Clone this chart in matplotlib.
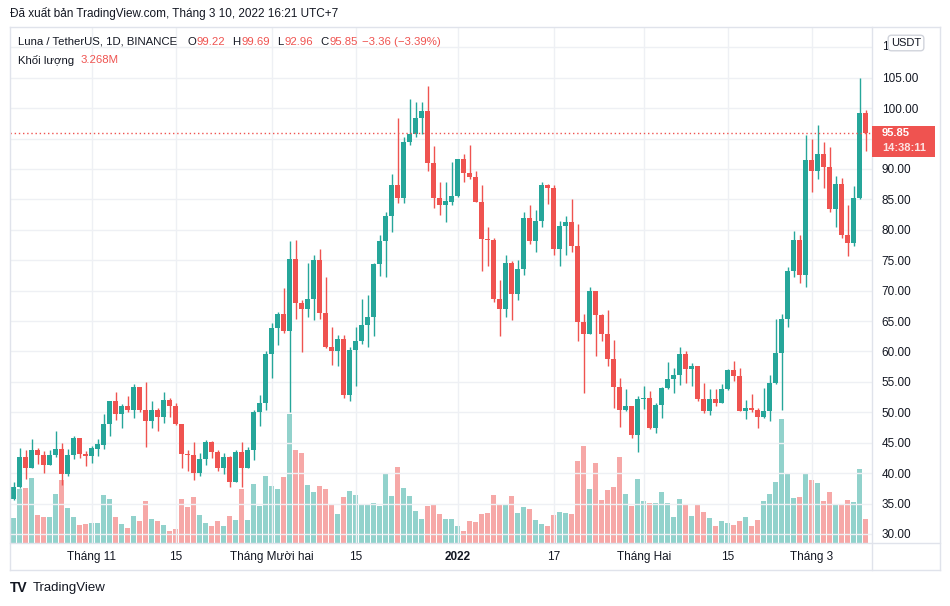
import matplotlib
matplotlib.use("Agg")
import matplotlib.pyplot as plt
import matplotlib.transforms as mtransforms
from matplotlib.patches import Rectangle
from matplotlib.lines import Line2D
import numpy as np
import pandas as pd

plt.rcParams['font.family'] = ['Liberation Sans', 'DejaVu Sans']

# daily candles LUNA/USDT, 19 Oct 2021 -> 10 Mar 2022
dates = pd.date_range('2021-10-19', '2022-03-10', freq='D')

opens = [35.8, 37.7, 42.6, 40.9, 43.8, 43.0, 41.4, 43.0, 43.9, 39.9,
         43.0, 45.7, 43.2, 42.8, 44.0, 44.7, 48.0, 51.9, 49.8, 51.1,
         50.3, 54.1, 50.3, 48.5, 50.4, 49.3, 52.0, 51.0, 48.0, 43.1,
         43.0, 40.1, 42.4, 45.2, 43.4, 40.9, 42.7, 38.5, 43.5, 40.9,
         43.8, 50.1, 51.5, 59.6, 63.9, 66.2, 63.3, 75.2, 67.9, 67.0,
         68.7, 75.1, 66.3, 60.7, 60.1, 62.0, 52.9, 60.2, 61.7, 64.3,
         65.6, 74.3, 78.2, 82.2, 87.3, 85.3, 94.5, 95.8, 98.4, 99.6,
         90.9, 85.2, 84.0, 84.6, 85.5, 91.7, 89.4, 88.7, 84.5, 78.5,
         78.3, 68.7, 66.9, 74.5, 69.4, 73.5, 82.0, 78.2, 81.5, 87.3,
         86.9, 76.9, 80.7, 81.2, 77.3, 64.8, 62.9, 69.9, 66.0, 62.9,
         58.8, 54.2, 50.4, 51.1, 46.3, 52.2, 52.4, 47.5, 51.2, 54.0,
         55.5, 56.1, 59.6, 57.1, 57.6, 52.2, 50.2, 52.2, 51.6, 53.8,
         57.0, 56.0, 50.2, 50.7, 50.4, 49.2, 50.2, 54.8, 59.7, 65.3,
         73.2, 78.3, 72.5, 91.4, 89.6, 92.4, 90.4, 83.4, 87.6, 79.1,
         77.8, 85.3, 99.22]

highs = [38.5, 44.1, 43.8, 45.6, 44.1, 43.6, 43.8, 47.0, 44.9, 43.9,
         46.1, 45.7, 43.6, 44.4, 45.6, 49.8, 51.9, 53.3, 51.3, 52.6,
         54.7, 54.2, 54.9, 51.9, 50.7, 53.4, 52.4, 51.6, 48.1, 43.8,
         45.1, 43.3, 45.5, 45.3, 43.8, 43.3, 42.8, 43.8, 45.2, 44.3,
         50.4, 52.9, 60.1, 64.7, 66.5, 70.5, 78.2, 78.4, 68.4, 74.5,
         75.9, 76.8, 72.2, 64.0, 62.7, 62.7, 60.7, 64.0, 68.6, 69.2,
         74.5, 79.1, 83.0, 89.1, 98.3, 95.3, 101.5, 101.0, 101.0, 103.7,
         93.8, 87.9, 87.9, 91.2, 91.7, 92.5, 94.0, 89.6, 87.4, 80.4,
         78.7, 71.7, 75.8, 74.8, 75.1, 83.0, 84.0, 83.2, 87.9, 87.6,
         87.3, 81.5, 82.2, 85.0, 80.9, 66.1, 70.6, 69.9, 66.1, 66.8,
         61.9, 55.7, 53.9, 51.1, 52.7, 54.3, 53.5, 51.6, 54.2, 58.3,
         57.3, 60.7, 60.1, 58.1, 57.6, 54.8, 53.9, 53.9, 54.6, 57.1,
         58.4, 57.3, 52.0, 53.0, 50.7, 54.0, 56.1, 65.3, 66.1, 73.9,
         79.8, 79.1, 95.5, 95.0, 97.3, 94.4, 93.6, 88.8, 88.5, 84.0,
         87.2, 104.9, 99.69]

lows = [35.6, 37.5, 39.1, 40.8, 41.5, 40.1, 41.3, 42.7, 38.1, 39.6,
        42.4, 42.5, 41.2, 41.7, 42.8, 44.0, 46.1, 48.8, 47.5, 50.0,
        49.0, 50.0, 44.3, 47.4, 47.0, 48.3, 49.2, 47.9, 40.9, 40.4,
        38.8, 39.6, 41.4, 42.5, 40.4, 39.8, 37.8, 38.5, 37.8, 40.9,
        42.1, 47.7, 50.4, 55.7, 61.0, 63.0, 50.1, 65.3, 59.9, 65.7,
        65.2, 65.3, 60.6, 57.8, 57.6, 52.4, 51.9, 54.3, 61.2, 60.7,
        62.5, 72.4, 72.2, 79.6, 84.4, 84.4, 93.9, 95.2, 95.8, 89.6,
        83.5, 82.5, 81.2, 84.1, 85.4, 87.9, 88.4, 84.5, 73.3, 74.0,
        68.1, 62.5, 65.6, 65.1, 68.4, 72.5, 77.7, 76.4, 80.4, 84.3,
        75.9, 74.0, 75.8, 76.3, 61.7, 53.2, 62.9, 59.3, 61.7, 57.6,
        50.7, 47.6, 50.2, 45.7, 43.5, 50.6, 47.3, 46.6, 49.1, 53.9,
        53.2, 54.5, 54.8, 54.3, 51.9, 49.9, 49.5, 51.1, 51.5, 53.6,
        55.1, 50.2, 48.9, 50.0, 47.4, 49.1, 48.6, 54.6, 50.4, 64.1,
        72.2, 71.2, 70.6, 86.2, 88.3, 86.8, 82.9, 80.4, 78.6, 75.7,
        77.3, 85.1, 92.96]

closes = [37.7, 42.6, 40.9, 43.8, 43.0, 41.4, 43.0, 43.9, 39.9, 43.0,
          45.7, 43.2, 42.8, 44.1, 44.8, 48.0, 51.9, 49.8, 51.1, 50.3,
          54.1, 50.3, 48.5, 50.4, 49.3, 52.0, 51.0, 48.0, 43.1, 43.0,
          40.1, 42.4, 45.2, 43.4, 40.9, 42.7, 38.5, 43.5, 40.9, 43.8,
          50.1, 51.6, 59.6, 63.9, 66.2, 63.3, 75.2, 67.9, 67.0, 68.7,
          75.1, 66.3, 60.7, 60.1, 62.0, 52.9, 60.2, 61.7, 64.3, 65.6,
          74.3, 78.2, 82.2, 87.3, 85.3, 94.5, 95.8, 98.4, 99.6, 90.9,
          85.2, 84.0, 84.8, 85.5, 91.7, 89.4, 88.7, 84.5, 78.5, 78.3,
          68.7, 66.9, 74.5, 69.4, 73.5, 82.0, 78.2, 81.5, 87.3, 86.9,
          76.9, 80.7, 81.2, 77.3, 64.8, 62.9, 69.9, 66.0, 62.9, 58.8,
          54.2, 50.4, 51.1, 46.3, 52.2, 52.4, 47.5, 51.2, 54.0, 55.5,
          56.1, 59.6, 57.1, 57.6, 52.2, 50.2, 52.2, 51.6, 53.8, 57.0,
          56.0, 50.2, 50.7, 50.4, 49.2, 50.2, 54.8, 59.7, 65.3, 73.2,
          78.3, 72.5, 91.4, 89.6, 92.4, 90.4, 83.4, 87.6, 79.1, 77.8,
          85.3, 99.22, 95.85]

# volume in millions
volumes = [3.41, 7.41, 7.50, 8.86, 3.82, 3.59, 3.55, 6.68, 8.59, 4.77,
           3.55, 2.45, 2.59, 2.73, 2.73, 6.55, 6.00, 3.55, 2.59, 2.05,
           3.68, 3.00, 5.73, 3.27, 3.00, 2.45, 1.64, 1.91, 6.00, 4.91,
           6.27, 3.82, 2.73, 2.32, 3.00, 2.32, 3.68, 3.14, 7.36, 3.14,
           8.05, 5.05, 9.14, 7.77, 7.36, 9.00, 17.59, 12.68, 12.27, 7.91,
           6.95, 7.77, 7.36, 5.32, 3.95, 6.27, 7.09, 6.55, 5.32, 5.18,
           5.45, 5.05, 9.55, 6.41, 10.36, 7.50, 6.41, 4.36, 3.27, 5.05,
           5.32, 3.95, 3.27, 3.27, 2.32, 1.64, 3.00, 2.86, 3.95, 4.09,
           6.55, 5.18, 5.18, 6.41, 4.09, 4.91, 4.64, 3.14, 2.59, 2.32,
           3.82, 4.23, 4.09, 3.95, 11.18, 13.23, 7.36, 10.91, 5.86, 7.23,
           7.64, 11.73, 6.68, 5.05, 8.73, 5.73, 5.45, 5.45, 6.95, 5.45,
           3.55, 6.00, 5.18, 3.68, 5.18, 4.23, 3.41, 2.32, 3.00, 2.73,
           2.45, 3.00, 3.55, 2.32, 3.14, 5.73, 6.68, 8.32, 16.91, 9.41,
           6.14, 6.27, 9.41, 8.59, 8.18, 5.73, 6.95, 5.18, 5.18, 5.86,
           5.59, 10.09, 3.268]

# daily change shown in the legend
change = -3.36
change_pct = -3.39

tick_dates = ['2021-11-01', '2021-11-15', '2021-12-01', '2021-12-15', '2022-01-01',
              '2022-01-17', '2022-02-01', '2022-02-15', '2022-03-01']
tick_labels = ['Tháng 11', '15', 'Tháng Mười hai', '15', '2022',
               '17', 'Tháng Hai', '15', 'Tháng 3']
price_ticks = np.arange(30, 106, 5)

GREEN = '#26a69a'
RED = '#ef5350'
TXT = '#131722'
LINE = '#e0e3eb'
W, H = 950, 606

fig = plt.figure(figsize=(9.5, 6.06), dpi=100)
fig.patch.set_facecolor('white')

# plot area in pixels: x 10..872, y 27..543
ax = fig.add_axes([10 / W, 1 - 543 / H, 862 / W, 516 / H])
vax = ax.twinx()

o = np.array(opens); h = np.array(highs); l = np.array(lows); c = np.array(closes)
x = np.arange(len(dates))
up = c >= o
cols = np.where(up, GREEN, RED)

# volume (behind)
vax.bar(x, volumes, width=0.8, color=cols, alpha=0.5, linewidth=0)
vax.set_ylim(0, 70.4)
vax.set_yticks([])
for s in vax.spines.values():
    s.set_visible(False)

ax.set_zorder(vax.get_zorder() + 1)
ax.patch.set_visible(False)
vax.patch.set_facecolor('white')

# candles
ax.vlines(x, l, h, colors=cols, linewidth=1)
ax.bar(x, np.maximum(np.abs(c - o), 0.2), bottom=np.minimum(o, c),
       width=0.78, color=cols, linewidth=0)

ax.axhline(closes[-1], color=RED, linestyle=(0, (1, 2)), linewidth=1)

ax.set_xlim(-0.62, 143.05)
ax.set_ylim(28.52, 113.33)

tick_pos = [dates.get_loc(pd.Timestamp(d)) for d in tick_dates]
ax.set_xticks(tick_pos)
ax.set_xticklabels(tick_labels, fontsize=8.5, color=TXT)
for lab in ax.get_xticklabels():
    if lab.get_text() == '2022':
        lab.set_fontweight('bold')
ax.yaxis.tick_right()
ax.set_yticks(price_ticks)
# the 95.00 label sits under the last-price tag, so it is left blank
ax.set_yticklabels(['' if abs(v - closes[-1]) < 3 else f'{v:.2f}' for v in price_ticks],
                   fontsize=8.5, color=TXT)
ax.tick_params(axis='both', length=0)
ax.tick_params(axis='y', pad=7)
ax.tick_params(axis='x', pad=6)
ax.grid(True, color='#eef0f4', linewidth=1)
ax.axhline(110, color='#eef0f4', linewidth=1, zorder=0)
ax.set_axisbelow(True)
for s in ax.spines.values():
    s.set_visible(False)


def px(xp, yp):
    return xp / W, 1 - yp / H


# frame lines
for (x0, y0, x1, y1) in [(10, 27, 940, 27), (10, 570, 940, 570), (10, 27, 10, 570),
                         (940, 27, 940, 570), (872, 27, 872, 570), (10, 543, 940, 543)]:
    a, b = px(x0, y0)
    cc, d = px(x1, y1)
    fig.add_artist(Line2D([a, cc], [b, d], color=LINE, linewidth=1, transform=fig.transFigure))

# last price label
bt = mtransforms.blended_transform_factory(fig.transFigure, ax.transData)
fig.add_artist(Rectangle((872 / W, 91.9), 63 / W, 5.2, transform=bt,
                         facecolor=RED, edgecolor='none', zorder=5))
fig.text(882 / W, closes[-1] + 0.1, f'{closes[-1]:.2f}', transform=bt, color='white',
         fontsize=8, fontweight='bold', va='center', zorder=6)
fig.text(882 / W, closes[-1] - 2.4, '14:38:11', transform=bt, color='#fde3e2',
         fontsize=8, fontweight='bold', va='center', zorder=6)

# 110.00 label mostly hidden behind the currency box: only its first digit shows
fig.text(882 / W, 110, '1', transform=bt, fontsize=8.5, color=TXT, va='center')
fig.text(906 / W, 1 - 43 / H, 'USDT', ha='center', va='center', fontsize=8, color=TXT, zorder=6,
         bbox=dict(boxstyle='round,pad=0.25,rounding_size=0.3', fc='white', ec='#d1d4dc', lw=1))

# header / legend
fig.text(10 / W, 1 - 14 / H, 'Đã xuất bản TradingView.com, Tháng 3 10, 2022 16:21 UTC+7',
         fontsize=8.5, color=TXT, va='center')

renderer = fig.canvas.get_renderer()


def chain(parts, xp, yp, size=8.2):
    for s, col, gap in parts:
        t = fig.text(xp / W, 1 - yp / H, s, fontsize=size, color=col, va='center')
        bb = t.get_window_extent(renderer)
        xp = bb.x1 + gap


chain([('Luna / TetherUS, 1D, BINANCE', TXT, 10),
       ('O', TXT, 1), (f'{opens[-1]:.2f}', RED, 7),
       ('H', TXT, 1), (f'{highs[-1]:.2f}', RED, 7),
       ('L', TXT, 1), (f'{lows[-1]:.2f}', RED, 7),
       ('C', TXT, 1), (f'{closes[-1]:.2f}', RED, 4),
       (f'−{abs(change):.2f} (−{abs(change_pct):.2f}%)', RED, 0)], 18, 42)
chain([('Khối lượng', TXT, 6), (f'{volumes[-1]:.3f}M', RED, 0)], 18, 60)

# logo
fig.text(10 / W, 1 - 588 / H, 'TV', fontsize=10, fontweight='heavy', color=TXT, va='center')
fig.text(33 / W, 1 - 588 / H, 'TradingView', fontsize=9.5, color=TXT, va='center')

fig.savefig('out.png', dpi=100, facecolor='white')
